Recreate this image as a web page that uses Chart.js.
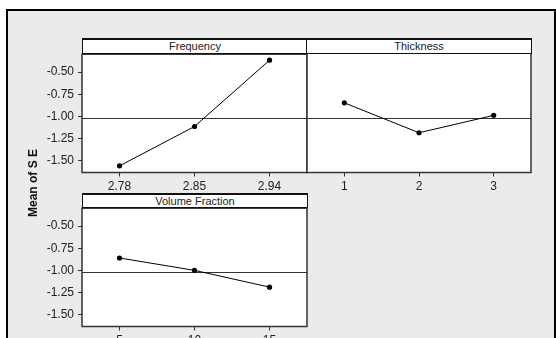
<!DOCTYPE html>
<html>
<head>
<meta charset="utf-8">
<script src="https://cdn.jsdelivr.net/npm/chart.js@4.4.1/dist/chart.umd.min.js"></script>
<style>
  body { margin: 0; width: 556px; height: 338px; background: #fff; overflow: hidden; position: relative; font-family: "Liberation Sans", Arial, sans-serif; }
  #frame { position: absolute; left: 6px; top: 9px; width: 546px; height: 340px; border: 2px solid #000; background: #ebebeb; }
  canvas { position: absolute; }
  .hdr { position: absolute; box-sizing: border-box; background: #fff; border: 1px solid #111; border-top-width: 2px;
         font-size: 11px; color: #222; text-align: center; line-height: 12px; }
  #ytitle { position: absolute; left: -17px; top: 176px; width: 100px; text-align: center; font-size: 12px; font-weight: bold;
            color: #111; transform: rotate(-90deg); }
</style>
</head>
<body>
<div id="frame"></div>
<canvas id="freq" width="290" height="150" style="left:30px;top:43px"></canvas>
<canvas id="thick" width="250" height="150" style="left:300px;top:43px"></canvas>
<canvas id="vol" width="290" height="160" style="left:30px;top:197px"></canvas>
<div class="hdr" style="left:82px;top:38px;width:226px;height:16px">Frequency</div>
<div class="hdr" style="left:306px;top:38px;width:226px;height:16px">Thickness</div>
<div class="hdr" style="left:82px;top:193px;width:226px;height:15px">Volume Fraction</div>
<div id="ytitle">Mean of S E</div>

<script>
// main effects: mean of S E per level
const freqLabels = ["2.78", "2.85", "2.94"];
const freqMeans = [-1.56, -1.115, -0.365];
const thickLabels = ["1", "2", "3"];
const thickMeans = [-0.855, -1.19, -0.995];
const volLabels = ["5", "10", "15"];
const volMeans = [-0.86, -1.0, -1.19];
const yTicks = [-0.50, -0.75, -1.00, -1.25, -1.50];
const yMin = -1.635, yMax = -0.297;
const grandMean = -1.02;

// white plot area, frame and grand mean line
const panelPlugin = {
  id: "panel",
  beforeDraw(chart) {
    const a = chart.chartArea, ctx = chart.ctx;
    ctx.save();
    ctx.fillStyle = "#fff";
    ctx.fillRect(a.left, a.top, a.right - a.left, a.bottom - a.top);
    ctx.restore();
  },
  beforeDatasetsDraw(chart) {
    const a = chart.chartArea, ctx = chart.ctx;
    const y = Math.round(chart.scales.y.getPixelForValue(grandMean)) + 0.5;
    ctx.save();
    ctx.strokeStyle = "#333";
    ctx.lineWidth = 1;
    ctx.beginPath();
    ctx.moveTo(a.left, y);
    ctx.lineTo(a.right, y);
    ctx.stroke();
    ctx.restore();
  },
  afterDraw(chart) {
    const a = chart.chartArea, ctx = chart.ctx;
    ctx.save();
    ctx.strokeStyle = "#333";
    ctx.lineWidth = 1.5;
    ctx.strokeRect(a.left, a.top, a.right - a.left, a.bottom - a.top);
    ctx.restore();
  }
};

function makePanel(id, labels, values, opts) {
  const ctx = document.getElementById(id).getContext("2d");
  return new Chart(ctx, {
    type: "line",
    data: {
      labels: labels,
      datasets: [{
        data: values,
        borderColor: "#000",
        borderWidth: 1,
        pointRadius: 2.6,
        pointBackgroundColor: "#000",
        pointBorderWidth: 0,
        tension: 0
      }]
    },
    options: {
      responsive: false,
      animation: false,
      events: [],
      layout: { padding: { top: opts.padTop, right: opts.padRight, left: 0, bottom: 0 } },
      plugins: { legend: { display: false }, tooltip: { enabled: false } },
      scales: {
        x: {
          type: "category",
          offset: true,
          border: { display: false },
          grid: { drawOnChartArea: false, drawTicks: true, tickLength: 4, color: "#333", offset: false },
          ticks: { color: "#222", font: { family: "Liberation Sans", size: 12 }, padding: 3, maxRotation: 0 },
          afterFit(scale) { scale.height = opts.xHeight; }
        },
        y: {
          min: yMin,
          max: yMax,
          border: { display: false },
          grid: { drawOnChartArea: false, drawTicks: opts.showY, tickLength: 4, color: "#333" },
          ticks: {
            display: opts.showY,
            color: "#222",
            font: { family: "Liberation Sans", size: 12 },
            padding: 4,
            callback: v => v.toFixed(2)
          },
          afterBuildTicks(scale) { scale.ticks = yTicks.map(v => ({ value: v })); },
          afterFit(scale) { scale.width = opts.yWidth; }
        }
      }
    },
    plugins: [panelPlugin]
  });
}

makePanel("freq", freqLabels, freqMeans, { showY: true, yWidth: 52, padTop: 10, padRight: 13, xHeight: 20.5 });
makePanel("thick", thickLabels, thickMeans, { showY: false, yWidth: 7, padTop: 10, padRight: 19, xHeight: 20.5 });
makePanel("vol", volLabels, volMeans, { showY: true, yWidth: 52, padTop: 10.5, padRight: 13, xHeight: 30.5 });
</script>
</body>
</html>
